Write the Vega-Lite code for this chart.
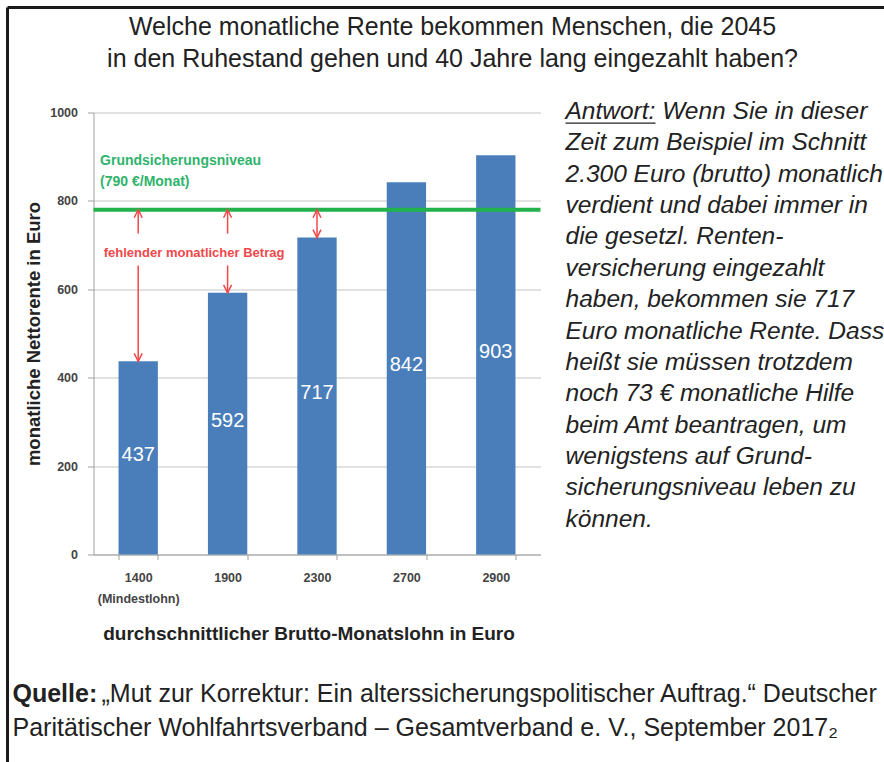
{
  "$schema": "https://vega.github.io/schema/vega-lite/v6.json",
  "padding": {"left": 5.5, "top": 5.5, "right": 0, "bottom": 0},
  "autosize": {"type": "pad"},
  "background": "white",
  "bounds": "flush",
  "spacing": 10,
  "config": {"view": {"stroke": null}, "font": "Liberation Sans"},
  "datasets": {
    "renten": [
      {"lohn": "1400", "netto": 437},
      {"lohn": "1900", "netto": 592},
      {"lohn": "2300", "netto": 717},
      {"lohn": "2700", "netto": 842},
      {"lohn": "2900", "netto": 903}
    ],
    "pfeile": [
      {"lohn": "1400", "von": 780, "bis": 726},
      {"lohn": "1400", "von": 654, "bis": 437},
      {"lohn": "1900", "von": 780, "bis": 726},
      {"lohn": "1900", "von": 654, "bis": 592},
      {"lohn": "2300", "von": 780, "bis": 717}
    ],
    "spitzen_oben": [
      {"lohn": "1400", "wert": 780},
      {"lohn": "1900", "wert": 780},
      {"lohn": "2300", "wert": 780}
    ],
    "spitzen_unten": [
      {"lohn": "1400", "wert": 437},
      {"lohn": "1900", "wert": 592},
      {"lohn": "2300", "wert": 717}
    ],
    "gruen": [
      {"t": "Grundsicherungsniveau", "wert": 891},
      {"t": "(790 €/Monat)", "wert": 842}
    ],
    "titel": [
      {"n": 1, "t": "Welche monatliche Rente bekommen Menschen, die 2045"},
      {"n": 2, "t": "in den Ruhestand gehen und 40 Jahre lang eingezahlt haben?"}
    ],
    "antwort": [
      {"n": 1, "t": "Antwort: Wenn Sie in dieser"},
      {"n": 2, "t": "Zeit zum Beispiel im Schnitt"},
      {"n": 3, "t": "2.300 Euro (brutto) monatlich"},
      {"n": 4, "t": "verdient und dabei immer in"},
      {"n": 5, "t": "die gesetzl. Renten-"},
      {"n": 6, "t": "versicherung eingezahlt"},
      {"n": 7, "t": "haben, bekommen sie 717"},
      {"n": 8, "t": "Euro monatliche Rente. Dass"},
      {"n": 9, "t": "heißt sie müssen trotzdem"},
      {"n": 10, "t": "noch 73 € monatliche Hilfe"},
      {"n": 11, "t": "beim Amt beantragen, um"},
      {"n": 12, "t": "wenigstens auf Grund-"},
      {"n": 13, "t": "sicherungsniveau leben zu"},
      {"n": 14, "t": "können."}
    ],
    "quelle": [
      {"n": 1, "t": "„Mut zur Korrektur: Ein alterssicherungspolitischer Auftrag.“ Deutscher"},
      {"n": 2, "t": "Paritätischer Wohlfahrtsverband – Gesamtverband e. V., September 2017₂"}
    ]
  },
  "vconcat": [
    {
      "width": 791,
      "height": 95,
      "resolve": {"scale": {"y": "independent"}},
      "layer": [
        {
          "data": {"values": [{}]},
          "mark": {"type": "rule", "color": "#1a1a1a", "strokeWidth": 3},
          "encoding": {
            "x": {"datum": -0.1087, "type": "quantitative", "scale": {"domain": [0, 1], "nice": false, "zero": false}, "axis": null},
            "x2": {"datum": 1},
            "y": {"datum": 0, "type": "quantitative", "scale": {"domain": [0, 1], "nice": false, "zero": false, "reverse": true}, "axis": null}
          }
        },
        {
          "data": {"values": [{}]},
          "mark": {"type": "rule", "color": "#1a1a1a", "strokeWidth": 3},
          "encoding": {
            "x": {"datum": -0.1087, "type": "quantitative"},
            "y": {"datum": 0, "type": "quantitative", "scale": {"domain": [0, 1], "nice": false, "zero": false, "reverse": true}, "axis": null},
            "y2": {"datum": 7.95}
          }
        },
        {
          "data": {"name": "titel"},
          "mark": {"type": "text", "fontSize": 25, "color": "#222", "align": "center", "baseline": "middle"},
          "encoding": {
            "x": {"datum": 0.4539, "type": "quantitative"},
            "y": {"field": "n", "type": "quantitative", "scale": {"domain": [0.406, 3.375], "nice": false, "zero": false, "reverse": true}, "axis": null},
            "text": {"field": "t"}
          }
        },
        {
          "data": {"values": [{"t": "Quelle:", "n": 1}]},
          "mark": {"type": "text", "fontSize": 25, "fontWeight": "bold", "color": "#222", "align": "left", "baseline": "middle"},
          "encoding": {
            "x": {"datum": -0.1024, "type": "quantitative"},
            "y": {"field": "n", "type": "quantitative", "scale": {"domain": [-19.176, -16.382], "nice": false, "zero": false, "reverse": true}, "axis": null},
            "text": {"field": "t"}
          }
        },
        {
          "data": {"name": "quelle"},
          "transform": [{"filter": "datum.n == 1"}],
          "mark": {"type": "text", "fontSize": 25, "color": "#222", "align": "left", "baseline": "middle"},
          "encoding": {
            "x": {"datum": 0.0101, "type": "quantitative"},
            "y": {"field": "n", "type": "quantitative", "scale": {"domain": [-19.176, -16.382], "nice": false, "zero": false, "reverse": true}, "axis": null},
            "text": {"field": "t"}
          }
        },
        {
          "data": {"name": "quelle"},
          "transform": [{"filter": "datum.n == 2"}],
          "mark": {"type": "text", "fontSize": 25, "color": "#222", "align": "left", "baseline": "middle"},
          "encoding": {
            "x": {"datum": -0.1024, "type": "quantitative"},
            "y": {"field": "n", "type": "quantitative", "scale": {"domain": [-19.176, -16.382], "nice": false, "zero": false, "reverse": true}, "axis": null},
            "text": {"field": "t"}
          }
        }
      ]
    },
    {
      "bounds": "flush",
      "spacing": 25,
      "hconcat": [
        {
          "width": 447,
          "height": 442,
          "layer": [
            {
              "data": {"name": "renten"},
              "mark": {"type": "bar", "color": "#4a7ebb"},
              "encoding": {
                "x": {
                  "field": "lohn", "type": "ordinal",
                  "scale": {"paddingInner": 0.56, "paddingOuter": 0.28},
                  "axis": {
                    "title": "durchschnittlicher Brutto-Monatslohn in Euro",
                    "titleX": 215,
                    "labelAngle": 0,
                    "labelExpr": "datum.value == '1400' ? ['1400', '(Mindestlohn)'] : datum.value",
                    "labelFontSize": 12.5, "labelFontWeight": "bold", "labelColor": "#444",
                    "labelLineHeight": 21, "labelPadding": 12, "labelBaseline": "top",
                    "tickBand": "extent", "tickSize": 5, "tickColor": "#a0a0a0", "domainColor": "#a0a0a0",
                    "titleFontSize": 19, "titleFontWeight": "bold", "titleColor": "#222", "titlePadding": 19,
                    "grid": false
                  }
                },
                "y": {
                  "field": "netto", "type": "quantitative",
                  "scale": {"domain": [0, 1000], "nice": false},
                  "axis": {
                    "values": [0, 200, 400, 600, 800, 1000],
                    "format": "d",
                    "title": "monatliche Nettorente in Euro",
                    "titleFontSize": 18.5, "titleFontWeight": "bold", "titleColor": "#222", "titlePadding": 6,
                    "labelFontSize": 12.5, "labelFontWeight": "bold", "labelColor": "#444", "labelPadding": 10,
                    "tickSize": 6, "tickColor": "#a0a0a0", "domainColor": "#a0a0a0",
                    "grid": true, "gridColor": "#c4c4c4"
                  }
                }
              }
            },
            {
              "data": {"name": "renten"},
              "transform": [{"calculate": "datum.netto / 2", "as": "mitte"}],
              "mark": {"type": "text", "color": "white", "fontSize": 20, "baseline": "middle", "dy": -3},
              "encoding": {
                "x": {"field": "lohn", "type": "ordinal"},
                "y": {"field": "mitte", "type": "quantitative"},
                "text": {"field": "netto"}
              }
            },
            {
              "data": {"values": [{"niveau": 780}]},
              "mark": {"type": "rule", "color": "#22b24c", "strokeWidth": 4},
              "encoding": {"y": {"field": "niveau", "type": "quantitative"}}
            },
            {
              "data": {"name": "pfeile"},
              "mark": {"type": "rule", "color": "#f0484a", "strokeWidth": 1.5},
              "encoding": {
                "x": {"field": "lohn", "type": "ordinal"},
                "y": {"field": "von", "type": "quantitative"},
                "y2": {"field": "bis"}
              }
            },
            {
              "data": {"name": "spitzen_oben"},
              "mark": {"type": "point", "shape": "M -0.5 1 L 0 0 L 0.5 1", "filled": false, "size": 256, "strokeWidth": 1.5, "color": "#f0484a", "opacity": 1},
              "encoding": {
                "x": {"field": "lohn", "type": "ordinal"},
                "y": {"field": "wert", "type": "quantitative"}
              }
            },
            {
              "data": {"name": "spitzen_unten"},
              "mark": {"type": "point", "shape": "M -0.5 -1 L 0 0 L 0.5 -1", "filled": false, "size": 256, "strokeWidth": 1.5, "color": "#f0484a", "opacity": 1},
              "encoding": {
                "x": {"field": "lohn", "type": "ordinal"},
                "y": {"field": "wert", "type": "quantitative"}
              }
            },
            {
              "data": {"name": "gruen"},
              "mark": {"type": "text", "color": "#2fb36b", "fontSize": 14, "fontWeight": "bold", "align": "left", "baseline": "middle"},
              "encoding": {
                "x": {"datum": "1400", "type": "ordinal", "bandPosition": -0.47},
                "y": {"field": "wert", "type": "quantitative"},
                "text": {"field": "t"}
              }
            },
            {
              "data": {"values": [{"t": "fehlender monatlicher Betrag", "wert": 683}]},
              "mark": {"type": "text", "color": "#f0484a", "fontSize": 13, "fontWeight": "bold", "align": "center", "baseline": "middle"},
              "encoding": {
                "x": {"datum": "1400", "type": "ordinal", "bandPosition": 1.92},
                "y": {"field": "wert", "type": "quantitative"},
                "text": {"field": "t"}
              }
            }
          ]
        },
        {
          "width": 319,
          "height": 442,
          "layer": [
            {
              "data": {"name": "antwort"},
              "mark": {"type": "text", "fontSize": 24.5, "fontStyle": "italic", "color": "#222", "align": "left", "baseline": "middle"},
              "encoding": {
                "x": {"datum": 0, "type": "quantitative", "scale": {"domain": [0, 319], "nice": false, "zero": false}, "axis": null},
                "y": {"field": "n", "type": "quantitative", "scale": {"domain": [1.02, 15.106], "nice": false, "zero": false, "reverse": true}, "axis": null},
                "text": {"field": "t"}
              }
            },
            {
              "data": {"values": [{}]},
              "mark": {"type": "rule", "color": "#222", "strokeWidth": 1.3},
              "encoding": {
                "x": {"datum": 0, "type": "quantitative"},
                "x2": {"datum": 90},
                "y": {"datum": 1.36, "type": "quantitative"}
              }
            }
          ]
        }
      ]
    }
  ]
}
